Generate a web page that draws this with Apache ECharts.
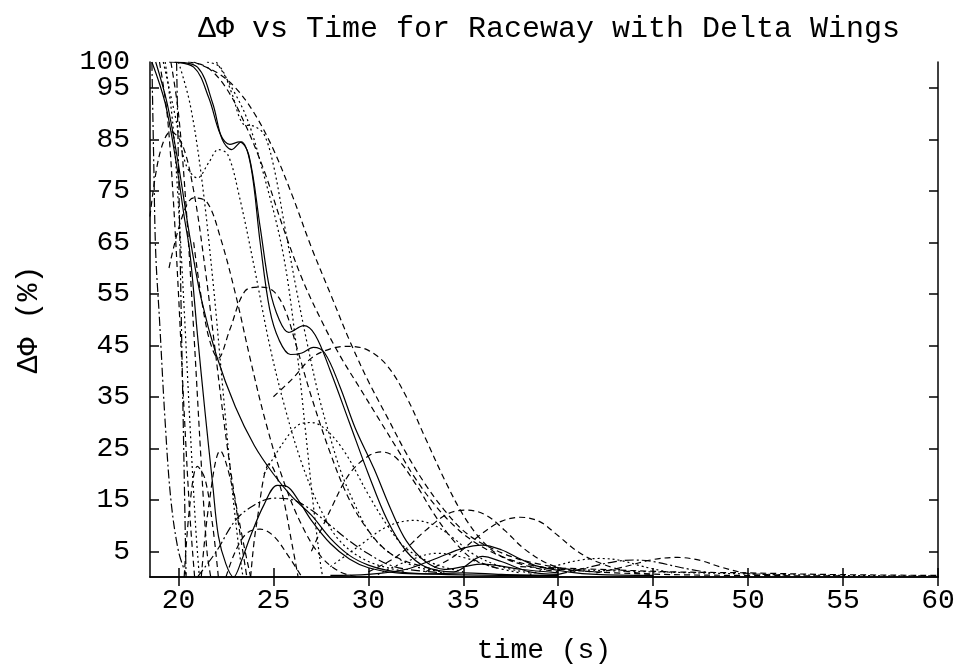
<!DOCTYPE html>
<html>
<head>
<meta charset="utf-8">
<script src="https://cdn.jsdelivr.net/npm/echarts@6/dist/echarts.min.js"></script>
<style>html,body{margin:0;padding:0;background:#fff;}#c{width:967px;height:667px;}</style>
</head>
<body>
<div id="c"></div>
<script>
const xTicks = [20, 25, 30, 35, 40, 45, 50, 55, 60];
const yTicks = [5, 15, 25, 35, 45, 55, 65, 75, 85, 95];
const yTopTick = [100];

// solid curves
const sCusp = [[18.6,100],[19.3,92],[19.9,80],[20.3,70],[20.6,63],[21.0,47],[21.4,32],[21.8,18],[22.1,8],[22.5,2.5],[22.9,0],[23.3,3],[23.8,8],[24.5,14],[25.2,17.8],[25.7,17.6],[26.3,15],[27,11],[28,6.5],[29,3.5],[30,1.8],[31.5,0.8],[33,0.6],[35,0.8],[37,0.5],[40,0.3]];
const sDecay = [[18.8,100],[19.4,92],[20.0,80],[20.6,66],[21.2,54],[22,43],[23,33],[24,25.5],[25,20],[26,15.5],[27,12],[28,7.5],[29,4.2],[30,2.3],[31,1.3],[32.5,0.7],[35,0.4],[40,0.2]];
const sDip43 = [[19.8,100],[21,99],[21.8,92],[22.3,85],[22.8,83],[23.3,84.5],[23.8,80],[24.3,65],[24.8,52],[25.3,46],[25.9,43.2],[26.5,43.5],[27.1,44.6],[27.7,43.5],[28.5,37],[29.3,29],[30.3,21],[31.2,13],[32,7],[33,3],[34,1.5],[35,2],[36,2.5],[38,1.5],[40,0.8]];
const sPeak49 = [[19.5,100],[20.8,99],[21.6,93],[22.2,86],[22.7,84],[23.2,84.5],[23.7,82],[24.3,68],[24.8,56],[25.3,50],[25.8,47.5],[26.6,48.8],[27.2,47],[28,40],[29,30],[30,20],[31,11],[32,5],[33,2],[34.5,1],[36,4],[37,3],[38.5,1],[40,0.5]];
const sHump6 = [[28,0.3],[30,0.5],[32,1.5],[33.5,3.5],[35,5.6],[36,6.2],[37,5.3],[38,3.5],[39,2],[40.5,1],[42,0.5],[45,0.3]];

// dashed curves
const dRight1 = [[20.8,100],[22,98],[23,95],[24,90],[25,83],[26,74],[27,64],[28,55],[29,46],[30,38],[31,31],[32,24],[33,18],[34,13],[35,9],[36,6.5],[37.5,4],[39,2.5],[41,1.3],[43,0.8],[47,0.4],[55,0.2]];
const dRight2 = [[20.5,100],[21.5,99],[22.5,95],[23.5,88],[24.5,79],[25.5,68],[26.5,58],[27.5,50],[28.5,43],[29.5,37],[30.5,31],[31.5,25],[32.5,19],[33.5,14],[34.5,10],[35.5,7],[37,4],[39,2],[42,1]];
const dHump44 = [[25,35],[26,38.5],[27,42.5],[28,44.3],[29,44.8],[30,44],[31,41],[32,35],[33,27],[34,19],[35,12],[36,7],[37,4],[38.5,2],[40,1]];
const dLeft1 = [[19.0,100],[19.4,90],[19.7,75],[20.0,55],[20.3,32],[20.6,12],[20.85,0]];
const dLeft2 = [[19.6,100],[20.0,90],[20.4,72],[20.8,48],[21.2,22],[21.5,5],[21.7,0]];
const dHump86 = [[18.5,70],[19,82],[19.6,86.5],[20.2,84],[20.8,75],[21.4,60],[21.9,45],[22.4,30],[22.9,17],[23.4,7],[23.8,0]];
const dHump73 = [[19.5,60],[20.2,70],[20.8,73.6],[21.5,72.8],[22.2,66],[23,55],[23.8,42],[24.6,30],[25.5,19],[26.5,10],[27.5,4],[28.5,1],[29.5,0]];
const dHump56 = [[20.8,65],[21.5,48],[22.1,42.5],[22.7,48],[23.5,55.5],[24.3,56.3],[25,55.5],[25.6,52],[26.2,45],[27,35],[28,24],[29,15],[30,9],[31,5],[32,3],[34,1]];
const dH21 = [[20.3,0],[20.6,14],[21,21.5],[21.4,19],[21.8,10],[22.1,0]];
const dH22 = [[21.2,0],[21.6,14],[22.2,24.5],[22.8,18],[23.3,7],[23.6,0]];
const dH25 = [[23.8,0],[24.1,10],[24.8,22],[25.4,17],[26,6],[26.3,0]];
const dH9 = [[22.5,0],[23,5],[23.6,8.5],[24.3,9.3],[25,8],[25.8,4],[26.5,0]];
const dH30 = [[27,5],[28,13],[29,20],[30,23.5],[30.7,24.3],[31.5,23],[32.5,18],[33.5,12],[34.5,7],[35.5,3.5],[37,1.5]];
const dH35 = [[30,1],[31.5,4],[33,9],[34.2,12.3],[35.2,13],[36.2,12],[37.2,9],[38.2,5.5],[39.5,2.5],[41,1]];
const dH38 = [[33,1],[34.5,4],[36,8.5],[37,10.8],[38,11.6],[39,10.8],[40,8],[41,5],[42,3],[43.5,1.2],[45,0.5]];
const dH46 = [[42,0.8],[43.5,2],[45,3.4],[46.3,3.8],[47.5,3.2],[48.5,2],[50,0.7],[52,0.4]];
const dTail = [[38,2],[42,1.5],[46,1],[50,0.8],[54,0.5],[60,0.3]];

// dotted curves
const pLeft1 = [[19.3,100],[19.7,88],[20.0,72],[20.3,52],[20.6,30],[20.9,10],[21.1,0]];
const pLeft2 = [[20.0,100],[20.6,92],[21.2,78],[21.8,58],[22.3,38],[22.8,18],[23.2,5],[23.4,0]];
const pSteep = [[22,100],[23.5,90],[24.5,78],[25.5,63],[26.2,45],[26.7,28],[27.1,14],[27.5,2],[27.6,0]];
const pUpper = [[21.5,100],[22.2,99],[22.8,94],[23.4,88],[24,87.5],[24.5,86],[25,80],[25.6,68],[26.2,56],[26.8,45],[27.4,35],[28,27],[28.6,20],[29.3,14],[30,9],[31,5],[32.5,2],[34,1]];
const pDip78 = [[19.2,100],[19.8,90],[20.4,80],[21,77.5],[21.6,80.5],[22.1,83],[22.6,82],[23.2,74],[24,60],[24.8,45],[25.6,33],[26.5,22],[27.5,13],[28.5,7],[30,3],[32,1]];
const pH27 = [[24.5,20],[25.5,26],[26.3,29.5],[27,30],[27.8,28.5],[28.8,24],[30,16],[31,10],[32,5.5],[33.5,2.5],[35,1]];
const pH32 = [[28,2],[29.5,6],[31,9.8],[32.4,11],[33.5,10],[34.5,7.5],[35.5,4.5],[37,2],[38.5,0.8]];
const pH34 = [[30.5,0.5],[32,3],[33.6,4.6],[35,3.8],[36.5,2],[38,0.8]];
const pH42 = [[38.5,0.5],[40,2.3],[41.2,3.3],[42.2,3.6],[43.3,3.2],[44.5,2],[46,0.8]];
const pTail = [[40,1.5],[45,1],[50,0.6],[55,0.3],[60,0.2]];

// dash-dot curves
const ddLeft = [[18.6,100],[18.7,80],[18.8,63],[19.0,50],[19.3,30],[19.6,15],[20.0,5],[20.4,0.5]];
const ddVert = [[19.9,100],[20.0,80],[20.1,60],[20.2,40],[20.3,20],[20.4,0]];
const ddBroad = [[21,0],[22,5],[23,11],[24,14],[25,15.3],[26,15],[27,13],[28,10],[29,7],[30,4.5],[31,2.5],[32,1.5],[34,0.8]];
const ddH44 = [[40,0.5],[41.5,1.8],[43,3],[44,3.3],[45,3],[46.5,1.8],[48,0.8]];

const SOLID = 'solid', DASH = [6,4], DOT = [2,3], DASHDOT = [9,3,2,3];
const curves = [
  [sCusp, SOLID],[sDecay, SOLID],[sDip43, SOLID],[sPeak49, SOLID],[sHump6, SOLID],
  [dRight1, DASH],[dRight2, DASH],[dHump44, DASH],[dLeft1, DASH],[dLeft2, DASH],[dHump86, DASH],
  [dHump73, DASH],[dHump56, DASH],[dH21, DASH],[dH22, DASH],[dH25, DASH],[dH9, DASH],[dH30, DASH],
  [dH35, DASH],[dH38, DASH],[dH46, DASH],[dTail, DASH],
  [pLeft1, DOT],[pLeft2, DOT],[pSteep, DOT],[pUpper, DOT],[pDip78, DOT],[pH27, DOT],[pH32, DOT],
  [pH34, DOT],[pH42, DOT],[pTail, DOT],
  [ddLeft, DASHDOT],[ddVert, DASHDOT],[ddBroad, DASHDOT],[ddH44, DASHDOT]
];

const FONT = 'Liberation Mono';
const chart = echarts.init(document.getElementById('c'), null, {renderer: 'canvas'});
const axisLineStyle = {show: true, lineStyle: {color: '#000', width: 1.5}};
const tickStyle = (vals) => ({show: true, inside: true, length: 9, customValues: vals, lineStyle: {color: '#000', width: 1.5}});
const labelStyle = {fontFamily: FONT, fontSize: 28, color: '#000'};
chart.setOption({
  animation: false,
  backgroundColor: '#fff',
  title: {
    text: 'ΔΦ vs Time for Raceway with Delta Wings',
    left: 544, top: 9, textAlign: 'center',
    textStyle: {fontFamily: FONT, fontSize: 30, fontWeight: 'normal', color: '#000'}
  },
  grid: {left: 150, right: 29, top: 62, bottom: 90, containLabel: false, outerBoundsMode: 'none'},
  xAxis: [
    {type: 'value', min: 18.5, max: 60, position: 'bottom',
     name: 'time (s)', nameLocation: 'middle', nameGap: 60,
     nameTextStyle: labelStyle,
     axisLine: axisLineStyle, axisTick: tickStyle(xTicks), splitLine: {show: false},
     axisLabel: Object.assign({customValues: xTicks, margin: 10}, labelStyle)},
    {type: 'value', min: 18.5, max: 60, position: 'top',
     axisLine: axisLineStyle, axisTick: tickStyle(xTicks), splitLine: {show: false},
     axisLabel: {show: false}}
  ],
  yAxis: [
    {type: 'value', min: 0, max: 100, position: 'left',
     name: 'ΔΦ (%)', nameLocation: 'middle', nameGap: 106, nameRotate: 90,
     nameTextStyle: {fontFamily: FONT, fontSize: 30, color: '#000'},
     axisLine: axisLineStyle, axisTick: tickStyle(yTicks), splitLine: {show: false},
     axisLabel: Object.assign({customValues: yTicks, margin: 20}, labelStyle)},
    {type: 'value', min: 0, max: 100, position: 'right',
     axisLine: axisLineStyle, axisTick: tickStyle(yTicks), splitLine: {show: false},
     axisLabel: {show: false}},
    {type: 'value', min: 0, max: 100, position: 'left',
     axisLine: {show: false}, axisTick: {show: false}, splitLine: {show: false},
     axisLabel: Object.assign({customValues: yTopTick, margin: 20}, labelStyle)}
  ],
  series: curves.map((c, i) => ({
    type: 'line', data: c[0], xAxisIndex: 0, yAxisIndex: 0,
    smooth: 0.35, showSymbol: false, symbol: 'none', silent: true,
    lineStyle: {color: '#000', width: 1.2, type: c[1]}
  }))
});
</script>
</body>
</html>
